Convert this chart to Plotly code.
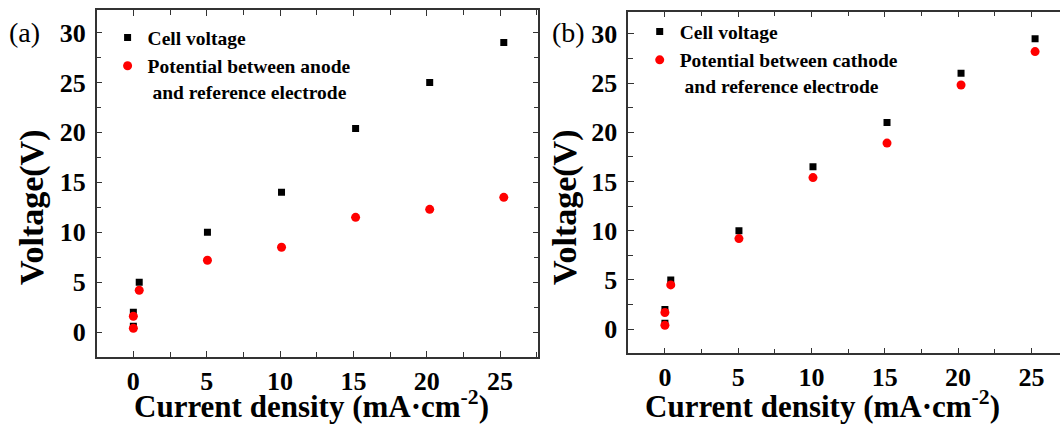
import plotly.graph_objects as go

# ---- data ----
x_a = [0, 0, 0.4, 5.05, 10.1, 15.15, 20.2, 25.25]
cell_a = [0.6, 2.0, 5.0, 10.0, 14.0, 20.4, 25.0, 29.0]
anode_a = [0.4, 1.6, 4.2, 7.2, 8.5, 11.5, 12.3, 13.5]

x_b = [0, 0, 0.4, 5.05, 10.1, 15.15, 20.2, 25.25]
cell_b = [0.6, 2.0, 5.0, 10.0, 16.5, 21.0, 26.0, 29.5]
cathode_b = [0.4, 1.7, 4.5, 9.2, 15.4, 18.9, 24.8, 28.2]

tick_vals = [0, 5, 10, 15, 20, 25, 30]
tick_text = ["0", "5", "10", "15", "20", "25", "30"]

SERIF = "Times New Roman, Liberation Serif, serif"
AXC = "#333333"

fig = go.Figure()

fig.add_trace(go.Scatter(x=x_a, y=cell_a, mode="markers", name="Cell voltage",
                         marker=dict(symbol="square", size=7, color="black"),
                         xaxis="x", yaxis="y", legend="legend"))
fig.add_trace(go.Scatter(x=x_a, y=anode_a, mode="markers",
                         name="Potential between anode<br> and reference electrode",
                         marker=dict(symbol="circle", size=9, color="#ff0000"),
                         xaxis="x", yaxis="y", legend="legend"))
fig.add_trace(go.Scatter(x=x_b, y=cell_b, mode="markers", name="Cell voltage",
                         marker=dict(symbol="square", size=7, color="black"),
                         xaxis="x2", yaxis="y2", legend="legend2"))
fig.add_trace(go.Scatter(x=x_b, y=cathode_b, mode="markers",
                         name="Potential between cathode<br> and reference electrode",
                         marker=dict(symbol="circle", size=9, color="#ff0000"),
                         xaxis="x2", yaxis="y2", legend="legend2"))

tickfont = dict(family=SERIF, size=26, color="black", weight="bold")

def xax(domain, anchor, rng, mirror):
    return dict(domain=domain, anchor=anchor, range=rng, showgrid=False, zeroline=False,
                showline=True, linecolor=AXC, linewidth=1.5, mirror=mirror,
                ticks="inside", ticklen=6, tickwidth=1.2, tickcolor=AXC,
                tickvals=tick_vals[:-1], ticktext=tick_text[:-1], tickfont=tickfont,
                minor=dict(dtick=2.5, tick0=0, ticks="inside", ticklen=5, tickcolor=AXC, tickwidth=1.2))

def yax(domain, anchor, rng, mirror):
    return dict(domain=domain, anchor=anchor, range=rng, showgrid=False, zeroline=False,
                showline=True, linecolor=AXC, linewidth=1.5, mirror=mirror,
                ticks="inside", ticklen=6, tickwidth=1.2, tickcolor=AXC,
                tickvals=tick_vals, ticktext=tick_text, tickfont=tickfont, ticklabelstandoff=4,
                minor=dict(dtick=2.5, tick0=0, ticks="inside", ticklen=5, tickcolor=AXC, tickwidth=1.2))

legfont = dict(family=SERIF, size=19.5, color="black", weight="bold")

fig.update_layout(
    width=1060, height=425,
    margin=dict(l=0, r=0, t=0, b=0),
    paper_bgcolor="white", plot_bgcolor="white",
    xaxis=xax([0.0912, 0.5078], "y", [-2.5, 27.6], "ticks"),
    yaxis=yax([0.1607, 0.9765], "x", [-2.45, 32.25], "ticks"),
    xaxis2=xax([0.5927, 1.0], "y2", [-2.5, 26.95], "ticks"),
    yaxis2=yax([0.1687, 0.9725], "x2", [-2.45, 32.25], False),
    legend=dict(x=0.1015, y=0.957, xanchor="left", yanchor="top", bgcolor="rgba(0,0,0,0)",
                font=legfont, valign="top", tracegroupgap=0, itemwidth=30),
    legend2=dict(x=0.6035, y=0.971, xanchor="left", yanchor="top", bgcolor="rgba(0,0,0,0)",
                 font=legfont, valign="top", tracegroupgap=0, itemwidth=30),
    showlegend=True,
)

titlefont = dict(family=SERIF, size=31, color="black", weight="bold")
ytitlefont = dict(family=SERIF, size=34, color="black", weight="bold")
ann = [
    dict(text="(a)", x=7, y=33, font=dict(family=SERIF, size=28, color="black"), xanchor="left"),
    dict(text="(b)", x=550, y=33, font=dict(family=SERIF, size=28, color="black"), xanchor="left"),
    dict(text="Current density (mA·cm<sup>-2</sup>)", x=311, y=404, font=titlefont, xanchor="center"),
    dict(text="Current density (mA·cm<sup>-2</sup>)", x=822, y=404, font=titlefont, xanchor="center"),
    dict(text="Voltage(V)", x=32, y=207, font=ytitlefont, textangle=-90, xanchor="center"),
    dict(text="Voltage(V)", x=565, y=207, font=ytitlefont, textangle=-90, xanchor="center"),
]
for a in ann:
    fig.add_annotation(text=a["text"], xref="paper", yref="paper",
                       x=a["x"] / 1060, y=1 - a["y"] / 425,
                       xanchor=a.get("xanchor", "center"), yanchor="middle",
                       textangle=a.get("textangle", 0), showarrow=False, font=a["font"])

fig.write_html("out.html", config={"displayModeBar": False},
               post_script="document.body.style.margin='0';")
